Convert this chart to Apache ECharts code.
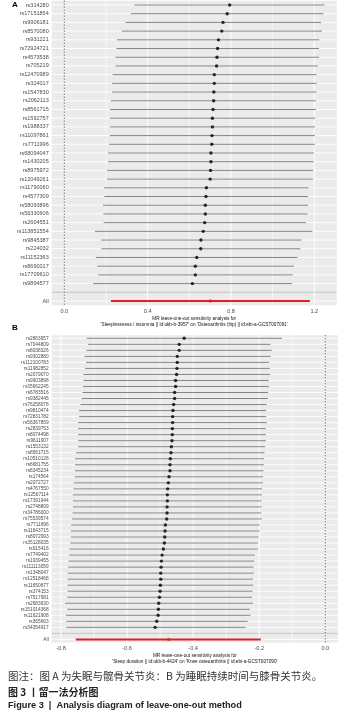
<!DOCTYPE html>
<html>
<head>
<meta charset="utf-8">
<script src="https://cdn.jsdelivr.net/npm/echarts@6/dist/echarts.min.js"></script>
<style>
  html, body { margin: 0; padding: 0; background: #fff; }
  #chart { width: 347px; height: 716px; }
</style>
</head>
<body>
<div id="chart"></div>
<script>
// panel A: sleeplessness / insomnia -> hip osteoarthritis
const snpsA = ['rs314280', 'rs17151854', 'rs9906181', 'rs8570080', 'rs931221', 'rs72924721', 'rs4573538', 'rs705219',
  'rs12470989', 'rs324017', 'rs1547830', 'rs2062113', 'rs8561715', 'rs1592757', 'rs1988337', 'rs11097861', 'rs7711996',
  'rs68094047', 'rs1430205', 'rs8975972', 'rs12049261', 'rs11790060', 'rs4577309', 'rs58093896', 'rs56330606',
  'rs2604551', 'rs113851554', 'rs9845387', 'rs224032', 'rs11152363', 'rs8690017', 'rs17709610', 'rs9894577']
const bA = [0.794, 0.782, 0.762, 0.756, 0.740, 0.736, 0.733, 0.731, 0.720, 0.720, 0.718, 0.717, 0.714, 0.711, 0.711,
  0.709, 0.708, 0.704, 0.704, 0.702, 0.700, 0.682, 0.680, 0.677, 0.677, 0.674, 0.667, 0.656, 0.655, 0.636, 0.629, 0.629, 0.615]
const loA = [0.336, 0.320, 0.293, 0.276, 0.253, 0.250, 0.245, 0.245, 0.232, 0.230, 0.229, 0.224, 0.219, 0.219, 0.219,
  0.219, 0.215, 0.211, 0.211, 0.206, 0.205, 0.191, 0.192, 0.186, 0.187, 0.189, 0.147, 0.176, 0.178, 0.151, 0.158, 0.163, 0.138]
const upA = [1.249, 1.244, 1.232, 1.237, 1.224, 1.223, 1.223, 1.218, 1.211, 1.211, 1.210, 1.208, 1.208, 1.205, 1.203,
  1.203, 1.203, 1.199, 1.197, 1.194, 1.194, 1.173, 1.170, 1.170, 1.168, 1.160, 1.191, 1.138, 1.133, 1.120, 1.103, 1.096, 1.093]
const allA = [0.701, 0.224, 1.179] // b, lo, up
const ticksA = [0, 0.4, 0.8, 1.2]
const minorA = [0.2, 0.6, 1.0]

// panel B: sleep duration -> knee osteoarthritis
const snpsB = ['rs2863957', 'rs7044809', 'rs8038326', 'rs9302880', 'rs112100783', 'rs11982852', 'rs2079070', 'rs9903898',
  'rs35662245', 'rs6783516', 'rs9382445', 'rs76258078', 'rs9810474', 'rs72831782', 'rs56367859', 'rs2839753', 'rs8074498',
  'rs9611907', 'rs1553132', 'rs8561715', 'rs10510128', 'rs6681755', 'rs8345234', 'rs174564', 'rs2072727', 'rs4767550',
  'rs12567114', 'rs17391944', 'rs2748809', 'rs34786000', 'rs75539574', 'rs7711696', 'rs11643715', 'rs8072993',
  'rs35128035', 'rs915416', 'rs7749402', 'rs1939455', 'rs111113059', 'rs1348047', 'rs12518468', 'rs11650677',
  'rs374153', 'rs7517981', 'rs2683630', 'rs151014368', 'rs11621908', 'rs365663', 'rs34354917']
const bB = [-0.427, -0.442, -0.442, -0.448, -0.448, -0.449, -0.450, -0.453, -0.453, -0.456,
  -0.456, -0.459, -0.461, -0.462, -0.462, -0.463, -0.463, -0.464, -0.466, -0.467,
  -0.469, -0.470, -0.470, -0.473, -0.475, -0.477, -0.478, -0.478, -0.479, -0.479,
  -0.480, -0.484, -0.485, -0.486, -0.487, -0.490, -0.494, -0.496, -0.497, -0.498,
  -0.498, -0.499, -0.500, -0.502, -0.504, -0.505, -0.506, -0.510, -0.515]
const loB = [-0.722, -0.718, -0.723, -0.729, -0.724, -0.727, -0.732, -0.732, -0.733, -0.735,
  -0.737, -0.741, -0.745, -0.745, -0.748, -0.748, -0.748, -0.748, -0.748, -0.754,
  -0.757, -0.757, -0.758, -0.758, -0.761, -0.762, -0.764, -0.764, -0.764, -0.765,
  -0.767, -0.769, -0.770, -0.770, -0.772, -0.775, -0.775, -0.777, -0.778, -0.780,
  -0.780, -0.780, -0.780, -0.781, -0.788, -0.781, -0.785, -0.784, -0.784]
const upB = [-0.131, -0.166, -0.162, -0.165, -0.170, -0.168, -0.167, -0.171, -0.171, -0.173,
  -0.174, -0.177, -0.179, -0.179, -0.177, -0.180, -0.180, -0.180, -0.182, -0.184,
  -0.186, -0.186, -0.187, -0.188, -0.189, -0.191, -0.192, -0.193, -0.193, -0.194,
  -0.192, -0.199, -0.199, -0.202, -0.204, -0.204, -0.213, -0.215, -0.217, -0.216,
  -0.219, -0.218, -0.220, -0.222, -0.219, -0.228, -0.226, -0.235, -0.241]
const allB = [-0.474, -0.755, -0.195]
const ticksB = [-0.8, -0.6, -0.4, -0.2, 0]
const minorB = [-0.7, -0.5, -0.3, -0.1]

const titleA = "MR leave-one-out sensitivity analysis for\n'Sleeplessness / insomnia || id:ukb-b-3957' on 'Osteoarthritis (hip) || id:ebi-a-GCST007091'"
const titleB = "MR leave-one-out sensitivity analysis for\n'Sleep duration || id:ukb-b-4424' on 'Knee osteoarthritis || id:ebi-a-GCST007090'"

const FONT = 'Liberation Sans'
const RED = '#e3201f'

const chart = echarts.init(document.getElementById('chart'))

const buildPanel = (k, snps, b, lo, up, all, ticks, minor, title, labelSize) => {
  const cats = snps.concat(['', 'All'])
  const allIdx = cats.length - 1
  const base = { xAxisIndex: k, yAxisIndex: k, silent: true }

  const xAxis = {
    gridIndex: k,
    type: 'value',
    min: k === 0 ? -0.0605 : -0.828,
    max: k === 0 ? 1.3077 : 0.0384,
    axisLine: { show: false },
    splitLine: { show: false },
    axisTick: { customValues: ticks, length: 2, lineStyle: { color: '#333', width: 0.7 } },
    axisLabel: {
      customValues: ticks,
      formatter: (v) => v.toFixed(1),
      fontFamily: FONT,
      fontSize: 5.6,
      color: '#4d4d4d',
      margin: 3.5,
    },
    name: title,
    nameLocation: 'middle',
    nameGap: 10,
    nameTextStyle: { fontFamily: FONT, fontSize: 4.7, color: '#111', lineHeight: 6.2 },
  }

  const yAxis = {
    gridIndex: k,
    type: 'category',
    inverse: true,
    data: cats,
    axisLine: { show: false },
    splitLine: { show: false },
    axisTick: { alignWithLabel: true, interval: 0, length: 2, lineStyle: { color: '#333', width: 0.7 } },
    axisLabel: { interval: 0, fontFamily: FONT, fontSize: labelSize, color: '#4d4d4d', margin: 3 },
  }

  // horizontal white gridlines, grey separator on the blank row
  const rows = Object.assign({}, base, {
    type: 'custom',
    z: 1,
    encode: { x: 0, y: 1 },
    data: cats.map((c, i) => [0, i, c === '' ? 1 : 0]),
    renderItem: (params, api) => {
      const y = api.coord([0, api.value(1)])[1]
      const cs = params.coordSys
      const blank = api.value(2) === 1
      return {
        type: 'line',
        shape: { x1: cs.x, y1: y, x2: cs.x + cs.width, y2: y },
        style: { stroke: blank ? '#c4c4c4' : '#ffffff', lineWidth: blank ? 1 : 0.9 },
      }
    },
  })

  // vertical gridlines (major + minor) and the dotted zero line
  const vData = ticks.map((v) => [v, 0, 1]).concat(minor.map((v) => [v, 0, 0]))
  vData.push([0, 0, 2])
  const vlines = Object.assign({}, base, {
    type: 'custom',
    z: 1,
    encode: { x: 0, y: 1 },
    data: vData,
    renderItem: (params, api) => {
      const x = api.coord([api.value(0), 0])[0]
      const cs = params.coordSys
      const kind = api.value(2)
      if (kind === 2) {
        return {
          type: 'line',
          z2: 10,
          shape: { x1: x, y1: cs.y, x2: x, y2: cs.y + cs.height },
          style: { stroke: '#000', lineWidth: 0.8, lineDash: [1, 2] },
        }
      }
      return {
        type: 'line',
        shape: { x1: x, y1: cs.y, x2: x, y2: cs.y + cs.height },
        style: { stroke: '#ffffff', lineWidth: kind === 1 ? 1 : 0.6 },
      }
    },
  })

  const barData = snps.map((s, i) => [lo[i], up[i], i, 0])
  barData.push([all[1], all[2], allIdx, 1])

  const bars = Object.assign({}, base, {
    type: 'custom',
    z: 2,
    encode: { x: [0, 1], y: 2 },
    data: barData,
    renderItem: (params, api) => {
      const p1 = api.coord([api.value(0), api.value(2)])
      const p2 = api.coord([api.value(1), api.value(2)])
      const isAll = api.value(3) === 1
      return {
        type: 'line',
        shape: { x1: p1[0], y1: p1[1], x2: p2[0], y2: p2[1] },
        style: { stroke: isAll ? RED : '#858585', lineWidth: isAll ? 2 : 1 },
      }
    },
  })

  const pointData = snps.map((s, i) => ({ value: [b[i], i], itemStyle: { color: '#000' } }))
  pointData.push({ value: [all[0], allIdx], itemStyle: { color: RED } })

  const points = Object.assign({}, base, {
    type: 'scatter',
    z: 3,
    symbolSize: 3.4,
    data: pointData,
  })

  return { xAxis, yAxis, series: [rows, vlines, bars, points] }
}

const panelA = buildPanel(0, snpsA, bA, loA, upA, allA, ticksA, minorA, titleA, 5.5)
const panelB = buildPanel(1, snpsB, bB, loB, upB, allB, ticksB, minorB, titleB, 4.8)

const option = {
  animation: false,
  grid: [
    { left: 51.7, top: 0.65, width: 285, height: 304.7, show: true, backgroundColor: '#ebebeb', borderWidth: 0 },
    { left: 51.7, top: 335.3, width: 286.3, height: 307.1, show: true, backgroundColor: '#ebebeb', borderWidth: 0 },
  ],
  xAxis: [panelA.xAxis, panelB.xAxis],
  yAxis: [panelA.yAxis, panelB.yAxis],
  series: panelA.series.concat(panelB.series),
  graphic: [
    { type: 'text', left: 12, top: 1, style: { text: 'A', font: 'bold 8px "Liberation Sans"', fill: '#000' } },
    { type: 'text', left: 12, top: 324, style: { text: 'B', font: 'bold 8px "Liberation Sans"', fill: '#000' } },
    {
      type: 'text', left: 8, top: 671,
      style: { text: '图注：图 A 为失眠与髋骨关节炎：B 为睡眠持续时间与膝骨关节炎。', font: '10.5px "Noto Sans CJK SC"', fill: '#333' },
    },
    {
      type: 'text', left: 8, top: 687,
      style: { text: '图 3 丨留一法分析图', font: 'bold 10px "Noto Sans CJK SC"', fill: '#222' },
    },
    {
      type: 'text', left: 8, top: 701,
      style: { text: 'Figure 3  |  Analysis diagram of leave-one-out method', font: 'bold 9.2px "Liberation Sans"', fill: '#222' },
    },
  ],
}

chart.setOption(option)
</script>
</body>
</html>
